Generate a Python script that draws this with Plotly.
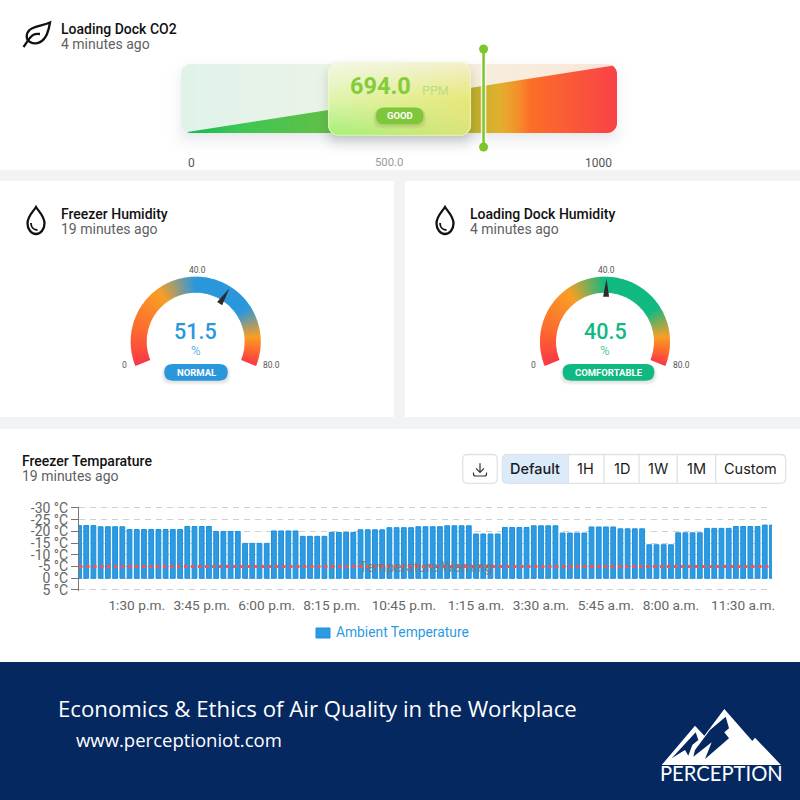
import numpy as np
import plotly.graph_objects as go

# freezer bars, one value every 15 minutes
ambient_temp = [
    -22.5, -22.5, -22.5,
    -22.0, -22.0, -22.0, -22.0,
    -20.8, -20.8, -20.8, -20.8, -20.8, -20.8, -20.8, -20.8,
    -22.1, -22.1, -22.1, -22.1,
    -20.0, -20.0, -20.0, -20.0,
    -14.9, -14.9, -14.9, -14.9,
    -20.2, -20.2, -20.2, -20.2,
    -17.9, -17.9, -17.9, -17.9,
    -19.6, -19.6, -19.6, -19.6,
    -20.7, -20.7, -20.7, -20.7,
    -21.6, -21.6, -21.6, -21.6,
    -22.0, -22.0, -22.0, -22.0,
    -22.4, -22.4, -22.4, -22.4,
    -18.9, -18.9, -18.9, -18.9,
    -21.7, -21.7, -21.7, -21.7,
    -22.4, -22.4, -22.4, -22.4,
    -19.3, -19.3, -19.3, -19.3,
    -21.9, -21.9, -21.9, -21.9,
    -21.1, -21.1, -21.1, -21.1,
    -14.3, -14.3, -14.3, -14.3,
    -19.4, -19.4, -19.4, -19.4,
    -21.3, -21.3, -21.3, -21.3,
    -22.1, -22.1, -22.1, -22.1,
    -22.7, -22.7,
]
time_ticks = [8, 17, 26, 35, 45, 55, 64, 73, 82, 92]
time_labels = ["1:30 p.m.", "3:45 p.m.", "6:00 p.m.", "8:15 p.m.", "10:45 p.m.",
               "1:15 a.m.", "3:30 a.m.", "5:45 a.m.", "8:00 a.m.", "11:30 a.m."]
temp_ticks = [-30, -25, -20, -15, -10, -5, 0, 5]
temp_labels = ["-30 °C", "-25 °C", "-20 °C", "-15 °C", "-10 °C", "-5 °C", "0 °C", "5 °C"]
temp_warning = -5

co2_value = 694.0
co2_max = 1000
freezer_humidity = 51.5
dock_humidity = 40.5
humidity_max = 80.0

range_buttons = ["Default", "1H", "1D", "1W", "1M", "Custom"]

BLUE = "#2a97dc"
GREEN = "#10b981"
PAGE = "#f2f3f5"
NAVY = "#04285f"

shapes = []
notes = []


def hex_rgb(c):
    return [int(c[i:i + 2], 16) for i in (1, 3, 5)]


def mix(stops, t):
    pos = [s[0] for s in stops]
    cols = [hex_rgb(s[1]) for s in stops]
    return [float(np.interp(t, pos, [c[i] for c in cols])) for i in range(3)]


def rect(x0, y0, x1, y1, fill, layer="below"):
    shapes.append(dict(type="rect", xref="x", yref="y", x0=x0, y0=y0, x1=x1, y1=y1,
                       fillcolor=fill, line_width=0, layer=layer))


def path(d, fill=None, line=None, width=1, layer="above"):
    s = dict(type="path", xref="x", yref="y", path=d, layer=layer)
    s["fillcolor"] = fill if fill else "rgba(0,0,0,0)"
    s["line"] = dict(color=line if line else "rgba(0,0,0,0)", width=width if line else 0)
    shapes.append(s)


def rounded(x0, y0, x1, y1, r):
    return (f"M{x0 + r} {y0} L{x1 - r} {y0} Q{x1} {y0} {x1} {y0 + r} L{x1} {y1 - r} "
            f"Q{x1} {y1} {x1 - r} {y1} L{x0 + r} {y1} Q{x0} {y1} {x0} {y1 - r} "
            f"L{x0} {y0 + r} Q{x0} {y0} {x0 + r} {y0} Z")


def txt(x, y, text, size, color, anchor="left", weight=400, family="Roboto", opacity=1):
    # annotations sit about a pixel low and to the right of the asked spot
    notes.append(dict(x=x - 1 if anchor == "left" else x, y=y - 1, xref="x", yref="y", text=text,
                      showarrow=False, xanchor=anchor, yanchor="middle", borderpad=0, opacity=opacity,
                      font=dict(size=size, color=color, family=family, weight=weight)))


def pill(x0, y0, x1, y1, color, label, size=9.5):
    r = (y1 - y0) / 2
    for k in range(5, 0, -1):
        path(rounded(x0 - k * 0.6, y0 + 1, x1 + k * 0.6, y1 + k * 0.9, r), fill="rgba(0,0,0,0.025)")
    path(rounded(x0, y0, x1, y1, r), fill=color)
    notes.append(dict(x=(x0 + x1) / 2, y=(y0 + y1) / 2, xref="x", yref="y",
                      text=label, showarrow=False, xanchor="center", yanchor="middle", borderpad=0,
                      font=dict(size=size, color="white", family="Roboto", weight=700)))


def gauge(cx, value, color, label, pill_x0, pill_x1):
    cy, outer, inner = 341.7, 65, 49
    sweep = 224
    stops = [(0, "#f93847"), (0.15, "#fd6a2e"), (0.3375, "#f99e24"), (0.5, color),
             (0.754, color), (0.88, "#f99e24"), (0.94, "#fd6a2e"), (1, "#f93847")]

    def pt(rad, frac):
        a = np.radians(-112 + frac * sweep)
        return cx + rad * np.sin(a), cy - rad * np.cos(a)

    n = 110
    for i in range(n):
        f0, f1 = i / n, min(1, (i + 1.35) / n)
        c = mix(stops, (i + 0.5) / n)
        a, b, d, e = pt(outer, f0), pt(outer, f1), pt(inner, f1), pt(inner, f0)
        path(f"M{a[0]:.2f} {a[1]:.2f} L{b[0]:.2f} {b[1]:.2f} L{d[0]:.2f} {d[1]:.2f} L{e[0]:.2f} {e[1]:.2f} Z",
             fill=f"rgb({c[0]:.0f},{c[1]:.0f},{c[2]:.0f})")

    # needle follows the value
    frac = value / humidity_max
    a = np.radians(-112 + frac * sweep)
    ux, uy = np.cos(a), np.sin(a)
    tip = pt(63, frac)
    base = pt(45, frac)
    path(f"M{tip[0]:.2f} {tip[1]:.2f} L{base[0] + 3 * ux:.2f} {base[1] + 3 * uy:.2f} "
         f"L{base[0] - 3 * ux:.2f} {base[1] - 3 * uy:.2f} Z", fill="#2b2b2b")

    txt(cx, 332.5, f"{value}", 21.5, color, "center", 500)
    txt(cx, 351.5, "%", 13, color, "center", 300)
    txt(cx + 1.5, 271, "40.0", 8.5, "#555555", "center")
    txt(cx - 71.5, 366, "0", 8.5, "#555555", "center")
    txt(cx + 76, 366, "80.0", 8.5, "#555555", "center")
    pill(pill_x0, 364, pill_x1, 380.7, color, label)


def sdf(X, Y, x0, y0, x1, y1, r):
    qx = np.abs(X - (x0 + x1) / 2) - ((x1 - x0) / 2 - r)
    qy = np.abs(Y - (y0 + y1) / 2) - ((y1 - y0) / 2 - r)
    return np.hypot(np.maximum(qx, 0), np.maximum(qy, 0)) + np.minimum(np.maximum(qx, qy), 0) - r


def over(img, col, alpha):
    a = alpha[..., None]
    return img * (1 - a) + np.asarray(col, dtype=float) * a


def co2_image():
    # soft gradients of the CO2 band and the glass card
    xs = np.arange(150, 650) + 0.5
    ys = np.arange(35, 170) + 0.5
    X, Y = np.meshgrid(xs, ys)
    img = np.full(X.shape + (3,), 255.0)

    d = sdf(X, Y - 7, 181, 64, 617, 133, 10)
    img = over(img, [60, 70, 90], 0.14 * np.clip(1 - (d + 10) / 26, 0, 1) ** 2)

    pale = [(181, "#e1f3ea"), (328, "#ebf4e8"), (480, "#f6eedd"), (560, "#faebdc"), (617, "#fce0da")]
    vivid = [(181, "#0eb955"), (240, "#3fc752"), (328, "#62c048"), (470, "#b9b02c"), (500, "#e2b02e"),
             (518, "#f5902a"), (530, "#fd6f28"), (617, "#f94248")]
    pale_row = np.array([mix(pale, x) for x in xs])
    vivid_row = np.array([mix(vivid, x) for x in xs])
    band = pale_row[None, :, :].repeat(len(ys), axis=0)
    top = 133 - (X - 181) / 436 * 68
    wedge = np.clip(Y - top + 0.5, 0, 1)[..., None]
    band = band * (1 - wedge) + vivid_row[None, :, :] * wedge
    cover = np.clip(0.5 - sdf(X, Y, 181, 64, 617, 133, 10), 0, 1)[..., None]
    img = img * (1 - cover) + band * cover

    d = sdf(X, Y - 7, 328, 62, 471, 136, 11)
    img = over(img, [30, 40, 40], 0.22 * np.clip(1 - (d + 8) / 22, 0, 1) ** 2)

    u = np.clip((X - 328) / 143, 0, 1)[..., None]
    v = np.clip((Y - 62) / 74, 0, 1)[..., None]
    rows = [(0, "#f4f8e6", "#f4f0cc"), (0.5, "#dff5ae", "#e8e87a"), (1, "#a4f078", "#dbe47c")]
    left = np.stack([np.interp(v[..., 0], [r[0] for r in rows], [hex_rgb(r[1])[i] for r in rows]) for i in range(3)], -1)
    right = np.stack([np.interp(v[..., 0], [r[0] for r in rows], [hex_rgb(r[2])[i] for r in rows]) for i in range(3)], -1)
    card = left * (1 - u) + right * u
    d = sdf(X, Y, 328, 62, 471, 136, 11)
    cover = np.clip(0.5 - d, 0, 1)[..., None]
    img = img * (1 - cover) + card * cover
    rim = np.clip(1.2 - np.abs(d + 0.6), 0, 1)
    img = over(img, [246, 250, 214], 0.5 * rim)
    return np.clip(img, 0, 255).astype(np.uint8).tolist(), float(xs[0]), float(ys[0])


# page blocks
rect(0, 0, 800, 800, PAGE)
rect(0, 0, 800, 170, "white")
rect(0, 181, 394, 417, "white")
rect(405, 181, 800, 417, "white")
rect(0, 429, 800, 662, "white")
rect(0, 662, 800, 800, NAVY)

# titles
for x, y, head, age in [(61, 30, "Loading Dock CO2", "4 minutes ago"),
                        (61, 215, "Freezer Humidity", "19 minutes ago"),
                        (470, 215, "Loading Dock Humidity", "4 minutes ago"),
                        (22, 462, "Freezer Temparature", "19 minutes ago")]:
    txt(x, y, head, 14, "#111111", weight=500)
    txt(x, y + 15, age, 14, "#5f5f5f")

# leaf icon
path("M50 22.5 C42 26 34 26 29.5 30 C25.5 34 26 40 30 42 C37 46 44 41 47 34 C48.5 30 49.5 26 50 22.5 Z",
     line="#111111", width=2.3)
path("M23.5 47 C27 42 30 36 34 34.5 C36 33.5 38 34 40 34", line="#111111", width=2.3)

# drop icons
for dx in [0, 409]:
    path(f"M{36 + dx} 207 C{33 + dx} 212 {27.5 + dx} 216 {27.5 + dx} 223.5 "
         f"C{27.5 + dx} 229.5 {31.5 + dx} 234 {36 + dx} 234 "
         f"C{40.5 + dx} 234 {44.5 + dx} 229.5 {44.5 + dx} 223.5 C{44.5 + dx} 216 {39 + dx} 212 {36 + dx} 207 Z",
         line="#111111", width=2.3)
    path(f"M{31 + dx} 223 C{31 + dx} 227 {33.5 + dx} 230 {37.5 + dx} 230", line="#111111", width=1.8)

# CO2 tick labels and value
txt(191, 163.5, "0", 12, "#555555", "center")
txt(389, 163.5, "500.0", 11.3, "#9a9a9a", "center")
txt(598, 163.5, "1000", 12, "#555555", "center")
txt(349.5, 87, f"{co2_value}", 23.5, "#85cc3a", weight=700)
txt(422, 91, "PPM", 12.5, "#b5e080", weight=400)
pill(376, 107.5, 423.5, 124.3, "#7fc63a", "GOOD", 9.5)

gauge(195.7, freezer_humidity, BLUE, "NORMAL", 164.3, 227.7)
gauge(605, dock_humidity, GREEN, "COMFORTABLE", 562.7, 654.3)

# export button and range selector
path(rounded(462.7, 454.5, 497.3, 483.3, 5), fill="white", line="#dfe3e8", width=1.3)
path("M480 463.3 L480 472 M476 468.3 L480 472.3 L484 468.3", line="#333333", width=1.2)
path("M473.5 472.5 L473.5 474 Q473.5 476 475.5 476 L484.5 476 Q486.5 476 486.5 474 L486.5 472.5",
     line="#333333", width=1.2)
path("M506.5 454.5 L568.3 454.5 L568.3 483.3 L506.5 483.3 Q502.3 483.3 502.3 479 L502.3 459 Q502.3 454.5 506.5 454.5 Z",
     fill="#dcebfa")
path(rounded(502.3, 454.5, 785.7, 483.3, 5), line="#dfe3e8", width=1.3)
for x in [568.3, 604, 639, 677.3, 715.7]:
    path(f"M{x} 454.5 L{x} 483.3", line="#dfe3e8", width=1.3)
for x, name in zip([535.3, 585.7, 621.5, 658, 696.5, 750.5], range_buttons):
    txt(x, 469.5, name, 14.5, "#1a1a1a", "center", 500 if name == "Default" else 400, "Inter")

# chart legend and warning label
path("M316 628 L330 628 L330 638 L316 638 Z", fill="#2e9be0", line="#1a8fe0", width=1)
txt(336, 632.5, "Ambient Temperature", 13.8, "#2e9be0")
txt(426, 568, "Temperature Warning", 14, "#777777", "center", opacity=0.8)

# footer
txt(58, 709, "Economics &amp; Ethics of Air Quality in the Workplace", 22.2, "white", family="Open Sans")
txt(76, 740.5, "www.perceptioniot.com", 18.5, "white", family="Open Sans")


def logo(points, fill):
    d = "M" + " L".join(f"{655 + p[0] / 3:.1f} {705 + p[1] / 3:.1f}" for p in points) + " Z"
    path(d, fill=fill)


logo([(20, 180), (120, 62), (148, 92), (208, 12), (292, 108), (300, 98), (378, 180)], "white")
logo([(122, 82), (50, 160), (90, 135), (100, 152), (112, 120), (130, 105)], NAVY)
logo([(212, 35), (165, 75), (120, 135), (115, 155), (170, 112), (150, 162), (222, 100), (208, 82), (222, 70)], NAVY)
txt(721.5, 774, "PERCEPTION", 20.2, "white", "center", family="Lato")

fig = go.Figure()

pixels, img_x0, img_y0 = co2_image()
fig.add_trace(go.Image(z=pixels, x0=img_x0, y0=img_y0, dx=1, dy=1, colormodel="rgb",
                       xaxis="x", yaxis="y", hoverinfo="skip"))

# CO2 marker on its own 0-1000 scale
fig.add_trace(go.Scatter(x=[co2_value, co2_value], y=[49, 147], xaxis="x3", yaxis="y", mode="lines",
                         line=dict(color="rgba(255,255,255,0.8)", width=5.5), hoverinfo="skip"))
fig.add_trace(go.Scatter(x=[co2_value, co2_value], y=[49, 147], xaxis="x3", yaxis="y", mode="lines+markers",
                         line=dict(color="#7dc52d", width=2.5), marker=dict(size=9, color="#7dc52d"),
                         hoverinfo="skip"))

fig.add_trace(go.Bar(x=list(range(len(ambient_temp))), y=ambient_temp, xaxis="x2", yaxis="y2", width=0.66,
                     marker=dict(color="#2e9be0", line=dict(color="#1a8fe0", width=1)),
                     name="Ambient Temperature"))
fig.add_trace(go.Scatter(x=[0, len(ambient_temp) - 1], y=[temp_warning, temp_warning], xaxis="x2", yaxis="y2",
                         mode="lines", line=dict(color="#ff4f4f", width=3, dash="3.5px,3.5px"),
                         name="Temperature Warning"))

# half a unit past each end so the first and last grid lines stay drawn
unit_px = 82 / 35
fig.update_layout(
    width=800, height=800, margin=dict(l=0, r=0, t=0, b=0, autoexpand=False), showlegend=False,
    paper_bgcolor=PAGE, plot_bgcolor="rgba(0,0,0,0)", font=dict(family="Roboto"),
    shapes=shapes, annotations=notes,
    xaxis=dict(domain=[0, 1], range=[0, 800], visible=False, fixedrange=True),
    yaxis=dict(domain=[0, 1], range=[800, 0], visible=False, fixedrange=True),
    xaxis3=dict(domain=[181 / 800, 617 / 800], range=[0, co2_max], visible=False, anchor="y"),
    xaxis2=dict(domain=[79 / 800, 772 / 800], range=[0, len(ambient_temp) - 1], anchor="y2",
                tickmode="array", tickvals=time_ticks, ticktext=time_labels, tickangle=0,
                showgrid=False, zeroline=False, showline=False, ticks="outside", ticklen=1,
                tickcolor="rgba(0,0,0,0)", tickfont=dict(size=13.7, color="#666666")),
    yaxis2=dict(domain=[1 - (590 + 0.5 * unit_px) / 800, 1 - (508 - 0.5 * unit_px) / 800],
                range=[5.5, -30.5], anchor="x2",
                tickmode="array", tickvals=temp_ticks, ticktext=temp_labels,
                showgrid=True, griddash="6px,5px", gridcolor="#cfcfcf", gridwidth=1.2, zeroline=False,
                showline=True, linecolor="#777777", linewidth=1, ticks="outside", ticklen=7,
                tickcolor="#777777", tickfont=dict(size=14, color="#666666")),
)

fig.write_html("out.html", config=dict(displayModeBar=False),
               post_script="document.body.style.margin='0';")
